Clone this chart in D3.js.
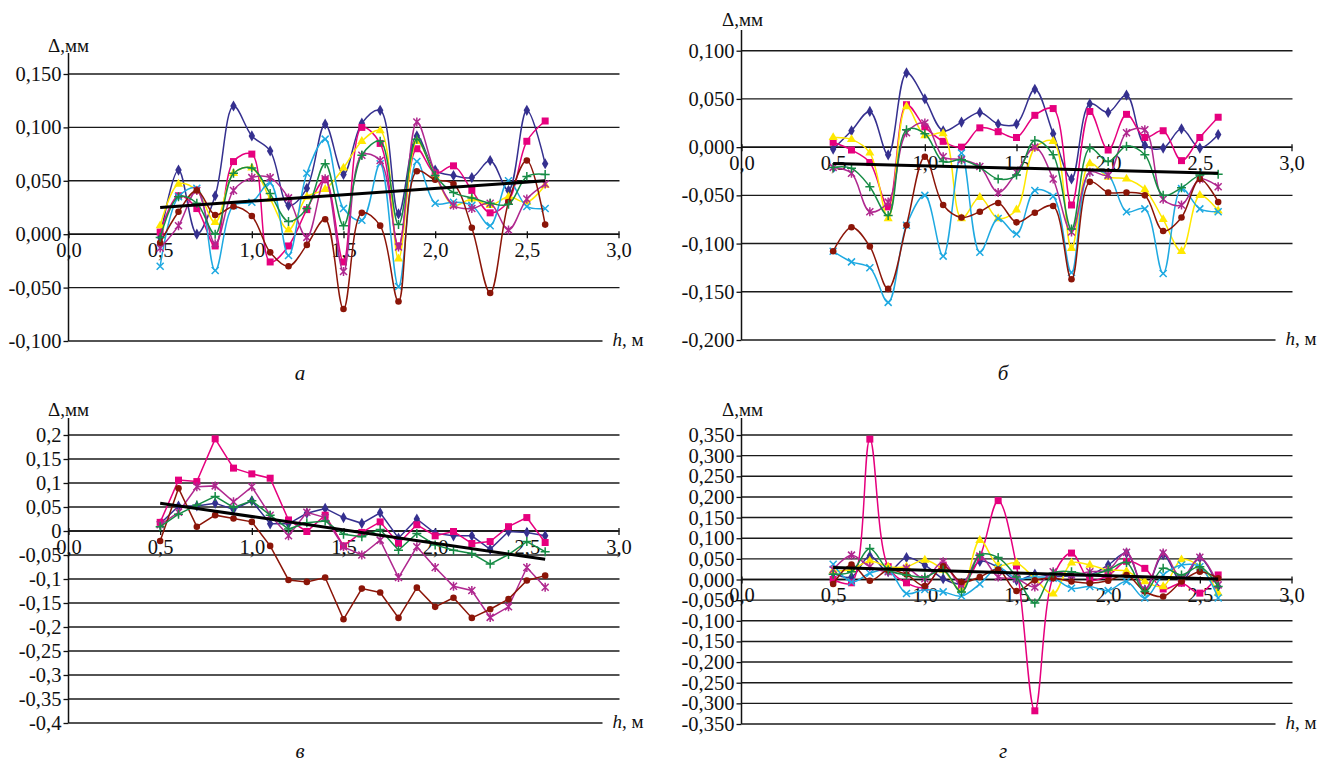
<!DOCTYPE html>
<html>
<head>
<meta charset="utf-8">
<script src="https://cdn.jsdelivr.net/npm/d3@7"></script>
<style>
  body { margin: 0; background: #fff; }
</style>
</head>
<body>
<div id="chart"></div>
<script>
// h, m
const hValues = [0.5, 0.6, 0.7, 0.8, 0.9, 1.0, 1.1, 1.2, 1.3, 1.4, 1.5, 1.6, 1.7, 1.8, 1.9, 2.0, 2.1, 2.2, 2.3, 2.4, 2.5, 2.6];
const xTicks = [0, 0.5, 1.0, 1.5, 2.0, 2.5, 3.0];

// panel a
const aNavy = [-0.003, 0.060, 0.000, 0.036, 0.120, 0.092, 0.078, 0.027, 0.043, 0.103, 0.056, 0.104, 0.116, 0.019, 0.092, 0.060, 0.055, 0.053, 0.069, 0.041, 0.116, 0.066];
const aPink = [0.002, 0.036, 0.024, -0.011, 0.068, 0.075, -0.026, -0.011, 0.023, 0.051, -0.026, 0.100, 0.085, -0.011, 0.080, 0.057, 0.064, 0.041, 0.020, 0.031, 0.087, 0.106];
const aYellow = [0.008, 0.047, 0.041, 0.011, 0.057, 0.062, 0.033, 0.004, 0.035, 0.042, 0.062, 0.087, 0.097, -0.023, 0.087, 0.055, 0.027, 0.033, 0.027, 0.035, 0.030, 0.046];
const aCyan = [-0.030, 0.035, 0.043, -0.034, 0.027, 0.030, 0.048, -0.020, 0.057, 0.089, 0.024, 0.013, 0.066, -0.049, 0.068, 0.029, 0.030, 0.027, 0.008, 0.050, 0.026, 0.024];
const aMagenta = [-0.013, 0.008, 0.041, -0.009, 0.041, 0.053, 0.053, 0.034, -0.003, 0.052, -0.035, 0.074, 0.069, -0.012, 0.105, 0.057, 0.027, 0.024, 0.029, 0.004, 0.033, 0.047];
const aBrown = [-0.008, 0.021, 0.041, 0.018, 0.026, 0.017, -0.017, -0.030, -0.010, 0.014, -0.070, 0.020, 0.008, -0.063, 0.059, 0.051, 0.047, 0.006, -0.055, 0.030, 0.069, 0.009];
const aGreen = [-0.003, 0.035, 0.029, 0.000, 0.057, 0.062, 0.038, 0.012, 0.024, 0.066, 0.008, 0.074, 0.087, 0.009, 0.089, 0.055, 0.039, 0.034, 0.029, 0.028, 0.054, 0.056];
const aTrend = [0.025, 0.050];

// panel b
const bNavy = [-0.002, 0.017, 0.037, -0.008, 0.077, 0.050, 0.017, 0.026, 0.036, 0.024, 0.024, 0.060, 0.014, -0.033, 0.045, 0.036, 0.054, 0.002, -0.001, 0.019, -0.001, 0.013];
const bPink = [0.005, -0.003, -0.016, -0.062, 0.044, 0.021, 0.006, 0.000, 0.020, 0.016, 0.010, 0.033, 0.040, -0.060, 0.037, -0.003, 0.034, 0.010, 0.017, -0.014, 0.010, 0.031];
const bYellow = [0.010, 0.008, -0.006, -0.074, 0.042, 0.012, 0.014, -0.074, -0.052, -0.074, -0.065, -0.001, 0.006, -0.105, -0.017, -0.031, -0.033, -0.044, -0.075, -0.108, -0.050, -0.066];
const bCyan = [-0.108, -0.119, -0.125, -0.161, -0.081, -0.050, -0.113, -0.006, -0.109, -0.074, -0.090, -0.045, -0.051, -0.130, -0.026, -0.029, -0.067, -0.064, -0.131, -0.043, -0.064, -0.067];
const bMagenta = [-0.021, -0.027, -0.067, -0.057, 0.015, 0.025, -0.010, -0.013, -0.020, -0.047, -0.026, 0.000, -0.033, -0.088, -0.026, -0.029, 0.015, 0.018, -0.054, -0.060, -0.033, -0.041];
const bBrown = [-0.108, -0.083, -0.103, -0.147, -0.081, -0.010, -0.060, -0.073, -0.067, -0.058, -0.078, -0.068, -0.061, -0.137, -0.036, -0.047, -0.047, -0.050, -0.087, -0.073, -0.033, -0.057];
const bGreen = [-0.021, -0.022, -0.041, -0.071, 0.018, 0.014, -0.015, -0.013, -0.021, -0.033, -0.029, 0.007, -0.008, -0.085, -0.001, -0.015, 0.001, -0.008, -0.050, -0.042, -0.029, -0.028];
const bTrend = [-0.017, -0.027];

// panel c (five series only)
const cNavy = [0.015, 0.052, 0.052, 0.058, 0.045, 0.063, 0.015, 0.015, 0.037, 0.047, 0.028, 0.016, 0.038, -0.015, 0.025, -0.005, -0.010, -0.010, -0.038, -0.001, -0.003, -0.010];
const cPink = [0.018, 0.106, 0.103, 0.192, 0.131, 0.119, 0.110, 0.023, -0.001, 0.033, -0.031, -0.003, 0.019, -0.026, 0.013, -0.010, -0.001, -0.026, -0.022, 0.009, 0.028, -0.024];
const cMagenta = [0.013, 0.039, 0.092, 0.094, 0.061, 0.092, 0.033, -0.010, 0.039, 0.028, -0.033, -0.050, -0.019, -0.097, -0.033, -0.076, -0.115, -0.124, -0.180, -0.158, -0.076, -0.117];
const cBrown = [-0.021, 0.089, 0.009, 0.033, 0.026, 0.019, -0.031, -0.102, -0.106, -0.097, -0.184, -0.120, -0.128, -0.181, -0.118, -0.158, -0.139, -0.181, -0.163, -0.142, -0.103, -0.093];
const cGreen = [0.009, 0.035, 0.054, 0.072, 0.049, 0.063, 0.033, 0.004, 0.017, 0.021, -0.007, -0.012, 0.003, -0.040, -0.005, -0.029, -0.040, -0.047, -0.069, -0.049, -0.022, -0.043];
const cTrend = [0.058, -0.059];

// panel d
const dNavy = [0.015, 0.006, 0.057, 0.019, 0.053, 0.035, 0.002, -0.010, 0.044, 0.029, -0.002, 0.013, 0.007, 0.009, 0.011, 0.035, 0.064, -0.025, 0.060, -0.005, 0.052, -0.017];
const dPink = [0.000, -0.008, 0.340, 0.031, -0.008, -0.019, 0.035, -0.011, 0.055, 0.191, 0.033, -0.318, 0.006, 0.064, -0.001, 0.010, 0.044, 0.027, -0.023, -0.009, -0.033, 0.011];
const dYellow = [0.021, 0.024, 0.045, 0.031, 0.031, 0.047, 0.023, -0.026, 0.095, 0.035, 0.040, 0.002, -0.035, 0.040, 0.035, 0.023, 0.020, -0.005, -0.017, 0.048, 0.031, -0.033];
const dCyan = [0.037, -0.006, 0.015, 0.023, -0.034, -0.024, -0.030, -0.040, -0.011, 0.029, 0.002, 0.006, 0.003, -0.021, -0.017, -0.027, -0.005, -0.045, 0.011, 0.035, 0.031, -0.045];
const dMagenta = [0.024, 0.059, 0.031, 0.019, 0.027, 0.002, 0.043, -0.014, 0.057, 0.006, 0.002, -0.018, 0.019, 0.011, 0.019, 0.023, 0.066, -0.025, 0.064, 0.003, 0.054, -0.013];
const dBrown = [-0.011, 0.036, -0.003, 0.023, 0.012, -0.016, 0.032, -0.006, 0.006, 0.024, -0.028, -0.002, 0.003, -0.005, -0.009, -0.003, 0.011, -0.029, -0.041, -0.005, 0.019, 0.003];
const dGreen = [0.013, 0.019, 0.075, 0.023, 0.011, 0.006, 0.023, -0.030, 0.059, 0.053, 0.006, -0.057, 0.015, 0.019, 0.011, 0.023, 0.041, -0.029, 0.027, 0.011, 0.031, -0.017];
const dTrend = [0.029, 0.001];

const trendH = [0.5, 2.6];

const FONT = '"Liberation Serif", "Times New Roman", "DejaVu Serif", serif';

const styles = {
  navy: { color: '#35308f', marker: 'diamond' },
  pink: { color: '#e6007e', marker: 'square' },
  yellow: { color: '#ffe800', marker: 'triangle' },
  cyan: { color: '#1ea9e1', marker: 'x' },
  magenta: { color: '#b0288f', marker: 'star' },
  brown: { color: '#8b1508', marker: 'circle' },
  green: { color: '#168c45', marker: 'plus' }
};

const fmt3 = v => v.toFixed(3).replace('.', ',').replace('-0,000', '0,000');
const fmtShort = v => String(+v.toFixed(2)).replace('.', ',');
const fmtX = v => v.toFixed(1).replace('.', ',');

const panels = [
  { letter: 'а', x0: 68.5, x1: 618.5, yTop: 74, yBottom: 341, axisTop: 53, yDomain: [-0.1, 0.15], yStep: 0.05, fmt: fmt3,
    titleX: 48, titleY: 52, letterX: 300, letterY: 380, smooth: true,
    series: [['navy', aNavy], ['pink', aPink], ['yellow', aYellow], ['cyan', aCyan], ['magenta', aMagenta], ['brown', aBrown], ['green', aGreen]], trend: aTrend },
  { letter: 'б', x0: 741.5, x1: 1291.5, yTop: 50.7, yBottom: 340, axisTop: 30, yDomain: [-0.2, 0.1], yStep: 0.05, fmt: fmt3,
    titleX: 722, titleY: 26, letterX: 1003, letterY: 380, smooth: true,
    series: [['navy', bNavy], ['pink', bPink], ['yellow', bYellow], ['cyan', bCyan], ['magenta', bMagenta], ['brown', bBrown], ['green', bGreen]], trend: bTrend },
  { letter: 'в', x0: 68.5, x1: 618.5, yTop: 435, yBottom: 723, axisTop: 418, yDomain: [-0.4, 0.2], yStep: 0.05, fmt: fmtShort,
    titleX: 48, titleY: 416, letterX: 300, letterY: 758, smooth: false,
    series: [['navy', cNavy], ['pink', cPink], ['magenta', cMagenta], ['brown', cBrown], ['green', cGreen]], trend: cTrend },
  { letter: 'г', x0: 741.5, x1: 1291.5, yTop: 435, yBottom: 724, axisTop: 418, yDomain: [-0.35, 0.35], yStep: 0.05, fmt: fmt3,
    titleX: 722, titleY: 416, letterX: 1003, letterY: 758, smooth: true,
    series: [['navy', dNavy], ['pink', dPink], ['yellow', dYellow], ['cyan', dCyan], ['magenta', dMagenta], ['brown', dBrown], ['green', dGreen]], trend: dTrend }
];

function markerPath(kind) {
  if (kind === 'x') return 'M-3.5,-3.5L3.5,3.5M-3.5,3.5L3.5,-3.5';
  if (kind === 'plus') return 'M-4.5,0L4.5,0M0,-4.5L0,4.5';
  if (kind === 'star') return 'M-3.5,-3.5L3.5,3.5M-3.5,3.5L3.5,-3.5M0,-4.5L0,4.5';
  if (kind === 'diamond') return d3.symbol(d3.symbolDiamond, 36)();
  if (kind === 'square') return d3.symbol(d3.symbolSquare, 49)();
  if (kind === 'triangle') return d3.symbol(d3.symbolTriangle, 36)();
  return d3.symbol(d3.symbolCircle, 34)();
}

function drawPanel(svg, p) {
  const x = d3.scaleLinear().domain([0, 3]).range([p.x0, p.x1]);
  const y = d3.scaleLinear().domain(p.yDomain).range([p.yBottom, p.yTop]);
  const g = svg.append('g');

  const nTicks = Math.round((p.yDomain[1] - p.yDomain[0]) / p.yStep);
  const yTicks = d3.range(nTicks + 1).map(i => +(p.yDomain[0] + i * p.yStep).toFixed(3));

  // gridlines
  g.selectAll('.grid')
    .data(yTicks)
    .enter()
    .append('line')
    .attr('x1', p.x0)
    .attr('x2', d => d === p.yDomain[0] ? p.x1 - 16 : p.x1 + 1)
    .attr('y1', d => y(d))
    .attr('y2', d => y(d))
    .attr('stroke', '#1a1a1a')
    .attr('stroke-width', 1.4);

  // y axis
  const yAxis = d3.axisLeft(y).tickValues(yTicks).tickSize(5).tickFormat(p.fmt);
  const yg = g.append('g').attr('transform', `translate(${p.x0},0)`).call(yAxis)
    .attr('font-family', FONT).attr('font-size', 20.5);
  yg.select('.domain').remove();
  yg.selectAll('.tick line').attr('stroke', '#111').attr('stroke-width', 1.3);
  yg.selectAll('.tick text').attr('x', -7).attr('fill', '#111');
  g.append('line')
    .attr('x1', p.x0).attr('x2', p.x0)
    .attr('y1', p.axisTop).attr('y2', p.yBottom)
    .attr('stroke', '#111').attr('stroke-width', 1.5);

  // x axis at zero
  const zeroY = y(0);
  const xAxis = d3.axisBottom(x).tickValues(xTicks).tickSize(4).tickFormat(fmtX);
  const xg = g.append('g').attr('transform', `translate(0,${zeroY})`).call(xAxis)
    .attr('font-family', FONT).attr('font-size', 20.5);
  xg.select('.domain').attr('stroke', '#111').attr('stroke-width', 1.5).attr('d', `M${p.x0},0H${p.x1}`);
  xg.selectAll('.tick line').attr('stroke', '#111').attr('y1', -3).attr('stroke-width', 1.3);
  xg.selectAll('.tick text').attr('y', 8).attr('fill', '#111');

  // series
  const line = d3.line()
    .x(d => x(d[0]))
    .y(d => y(d[1]))
    .curve(p.smooth ? d3.curveCatmullRom.alpha(0.5) : d3.curveLinear);

  p.series.forEach(([key, values]) => {
    const st = styles[key];
    const pts = hValues.map((h, i) => [h, values[i]]);
    g.append('path')
      .datum(pts)
      .attr('d', line)
      .attr('fill', 'none')
      .attr('stroke', st.color)
      .attr('stroke-width', 1.5);

    const stroked = ['x', 'plus', 'star'].includes(st.marker);
    g.selectAll(null)
      .data(pts)
      .enter()
      .append('path')
      .attr('transform', d => `translate(${x(d[0])},${y(d[1])})`)
      .attr('d', markerPath(st.marker))
      .attr('fill', stroked ? 'none' : st.color)
      .attr('stroke', stroked ? st.color : 'none')
      .attr('stroke-width', 1.5);
  });

  // trend line
  g.append('path')
    .datum(trendH.map((h, i) => [h, p.trend[i]]))
    .attr('d', d3.line().x(d => x(d[0])).y(d => y(d[1])))
    .attr('stroke', '#000')
    .attr('stroke-width', 3)
    .attr('fill', 'none');

  // labels
  g.append('text')
    .attr('x', p.titleX).attr('y', p.titleY)
    .attr('font-family', FONT)
    .attr('font-size', 19)
    .attr('fill', '#111')
    .text('Δ,мм');

  const hLabel = g.append('text')
    .attr('x', p.x1 - 6).attr('y', p.yBottom + 5)
    .attr('font-family', FONT)
    .attr('font-size', 19)
    .attr('fill', '#111');
  hLabel.append('tspan').attr('font-style', 'italic').text('h');
  hLabel.append('tspan').text(', м');

  g.append('text')
    .attr('x', p.letterX).attr('y', p.letterY)
    .attr('font-family', FONT)
    .attr('font-size', 21)
    .attr('font-style', 'italic')
    .attr('text-anchor', 'middle')
    .attr('fill', '#111')
    .text(p.letter);
}

function main() {
  const svg = d3.select('#chart').append('svg')
    .attr('width', 1335)
    .attr('height', 765);
  panels.forEach(p => drawPanel(svg, p));
}

main();
</script>
</body>
</html>
